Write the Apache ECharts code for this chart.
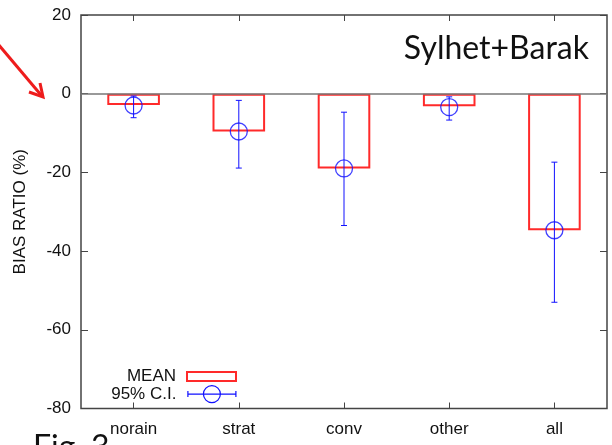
<!DOCTYPE html>
<html>
<head>
<meta charset="utf-8">
<script src="https://cdn.jsdelivr.net/npm/echarts@6/dist/echarts.min.js"></script>
<style>html,body{margin:0;padding:0;background:#fff;}#chart{width:612px;height:445px;}</style>
</head>
<body>
<div id="chart"></div>
<script>
const categories = ['norain', 'strat', 'conv', 'other', 'all'];
const meanValues = [-2.9, -9.6, -19.0, -3.2, -34.7];
const ciCenter = [-3.0, -9.6, -19.0, -3.4, -34.7];
const ciLow = [-6.1, -18.9, -33.5, -6.7, -53.0];
const ciHigh = [-0.6, -1.7, -4.7, -0.8, -17.4];
const yMin = -80, yMax = 20, yInterval = 20;

const RED = '#ff2a2a';
const BLUE = '#1010ff';
const FONT = 'Liberation Sans, Arial, sans-serif';

const chart = echarts.init(document.getElementById('chart'));
const ciIcon = 'path://M0,8.5L49,8.5M0.5,5.5L0.5,11.5M48.5,5.5L48.5,11.5M33,8.5A8.5,8.5,0,1,1,16,8.5A8.5,8.5,0,1,1,33,8.5';

chart.setOption({
  animation: false,
  backgroundColor: '#fff',
  grid: { left: 81, right: 5, top: 15, bottom: 36.5, show: true, borderColor: '#444', borderWidth: 1.5, backgroundColor: 'transparent' },
  title: {
    text: 'Sylhet+Barak', right: 18, top: 28,
    textStyle: { fontFamily: 'Lato, sans-serif', fontSize: 32, fontWeight: 'normal', color: '#111' }
  },
  legend: [
    {
      right: 375, top: 368, orient: 'vertical', align: 'right', padding: 0,
      itemWidth: 49, itemHeight: 9,
      textStyle: { fontFamily: FONT, fontSize: 17, color: '#111', padding: [0, 6, 0, 0] },
      data: [{ name: 'MEAN', icon: 'rect', itemStyle: { color: 'rgba(0,0,0,0)', borderColor: RED, borderWidth: 2 } }]
    },
    {
      right: 375, top: 385, orient: 'vertical', align: 'right', padding: 0,
      itemWidth: 49, itemHeight: 17,
      textStyle: { fontFamily: FONT, fontSize: 17, color: '#111', padding: [0, 6, 0, 0] },
      data: [{ name: '95% C.I.', icon: ciIcon, itemStyle: { color: 'rgba(0,0,0,0)', borderColor: BLUE, borderWidth: 1.2 } }]
    }
  ],
  xAxis: [
    {
      type: 'category', data: categories, position: 'bottom',
      axisLine: { show: false, onZero: false }, axisTick: { show: true, inside: true, alignWithLabel: true, length: 6, lineStyle: { color: '#444', width: 1 } },
      axisLabel: { fontFamily: FONT, fontSize: 17, color: '#111', margin: 12 },
      splitLine: { show: false }
    },
    {
      type: 'category', data: categories, position: 'top',
      axisLine: { show: false, onZero: false }, axisTick: { show: true, inside: true, alignWithLabel: true, length: 6, lineStyle: { color: '#444', width: 1 } },
      axisLabel: { show: false }, splitLine: { show: false }
    }
  ],
  yAxis: [
    {
      type: 'value', min: yMin, max: yMax, interval: yInterval, position: 'left',
      name: 'BIAS RATIO (%)', nameLocation: 'middle', nameGap: 52,
      nameTextStyle: { fontFamily: FONT, fontSize: 17, color: '#111' },
      axisLine: { show: false }, axisTick: { show: true, inside: true, length: 7, lineStyle: { color: '#444', width: 1 } },
      axisLabel: { fontFamily: FONT, fontSize: 17, color: '#111', margin: 10 },
      splitLine: { show: false }
    },
    {
      type: 'value', min: yMin, max: yMax, interval: yInterval, position: 'right',
      axisLine: { show: false }, axisTick: { show: true, inside: true, length: 7, lineStyle: { color: '#444', width: 1 } },
      axisLabel: { show: false }, splitLine: { show: false }
    }
  ],
  series: [
    {
      name: 'MEAN', type: 'bar', data: meanValues, barWidth: '50%',
      itemStyle: { color: 'rgba(0,0,0,0)', borderColor: RED, borderWidth: 2 },
      markLine: {
        silent: true, symbol: 'none', label: { show: false },
        lineStyle: { color: '#777', width: 1.5, type: 'solid' },
        data: [{ yAxis: 0 }]
      },
      z: 3
    },
    {
      name: '95% C.I.', type: 'custom',
      data: categories.map((c, i) => [i, ciLow[i], ciHigh[i]]),
      encode: { x: 0, y: [1, 2] },
      renderItem: function (params, api) {
        const x = api.value(0);
        const lo = api.coord([x, api.value(1)]);
        const hi = api.coord([x, api.value(2)]);
        const cap = 3;
        const style = { stroke: BLUE, lineWidth: 1, fill: null };
        return {
          type: 'group',
          children: [
            { type: 'line', shape: { x1: lo[0], y1: lo[1], x2: hi[0], y2: hi[1] }, style: style },
            { type: 'line', shape: { x1: lo[0] - cap, y1: lo[1], x2: lo[0] + cap, y2: lo[1] }, style: style },
            { type: 'line', shape: { x1: hi[0] - cap, y1: hi[1], x2: hi[0] + cap, y2: hi[1] }, style: style }
          ]
        };
      },
      z: 4
    },
    {
      name: '95% C.I.', type: 'scatter', data: ciCenter, symbol: 'circle', symbolSize: 17,
      itemStyle: { color: 'rgba(0,0,0,0)', borderColor: BLUE, borderWidth: 1.3 },
      z: 5
    }
  ],
  graphic: [
    { type: 'line', shape: { x1: -2, y1: 44, x2: 41, y2: 95 }, style: { stroke: '#ee1c1c', lineWidth: 3 } },
    { type: 'polyline', shape: { points: [[29, 92], [43, 97], [40, 83]] }, style: { stroke: '#ee1c1c', lineWidth: 3, fill: null } },
    { type: 'text', left: 33, top: 432, style: { text: 'Fig. 3', fontFamily: 'Lato, sans-serif', fontSize: 32, fill: '#111' } }
  ]
});
</script>
</body>
</html>
